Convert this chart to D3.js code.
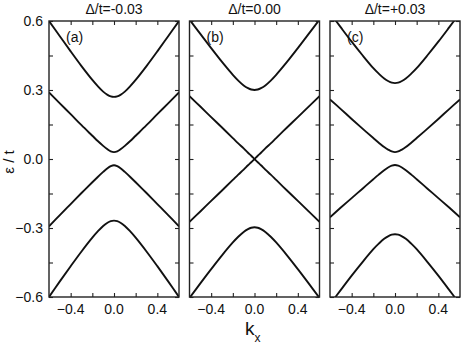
<!DOCTYPE html>
<html>
<head>
	<meta charset="utf-8">
	<script src="https://d3js.org/d3.v7.min.js"></script>
	<style>
		body { margin:0; background:#fff; }
		text { font-family: "Liberation Sans", Arial, sans-serif; fill:#111; }
		.axis path { display:none; }
		.axis line { stroke:#222; stroke-width:1.1; }
		.frame { fill:none; stroke:#222; stroke-width:1.4; }
		.band { fill:none; stroke:#111; stroke-width:1.9; }
	</style>
</head>
<body>
<script>
	// kx sample points (shared by every band)
	var kx = [-0.6,-0.5,-0.4,-0.3,-0.2,-0.15,-0.1,-0.06,-0.03,0,0.03,0.06,0.1,0.15,0.2,0.3,0.4,0.5,0.6];

	var titles = ["\u0394/t=-0.03", "\u0394/t=0.00", "\u0394/t=+0.03"];
	var panelTags = ["(a)", "(b)", "(c)"];

	var xTicks = [-0.4,-0.2,0,0.2,0.4];
	var xTickLabels = [-0.4,0,0.4];
	var yTicks = [-0.6,-0.45,-0.3,-0.15,0,0.15,0.3,0.45,0.6];
	var yTickLabels = [-0.6,-0.3,0,0.3,0.6];

	// panel (a), delta = -0.03
	var a_top = [0.600,0.534,0.468,0.404,0.344,0.317,0.293,0.279,0.272,0.270,0.272,0.279,0.293,0.317,0.344,0.404,0.468,0.534,0.600];
	var a_up  = [0.290,0.242,0.195,0.147,0.101,0.078,0.057,0.042,0.033,0.030,0.033,0.042,0.057,0.078,0.101,0.147,0.195,0.242,0.290];
	var a_dn  = [-0.293,-0.244,-0.196,-0.148,-0.101,-0.078,-0.056,-0.040,-0.031,-0.027,-0.031,-0.040,-0.056,-0.078,-0.101,-0.148,-0.196,-0.244,-0.293];
	var a_bot = [-0.600,-0.532,-0.466,-0.402,-0.342,-0.315,-0.291,-0.277,-0.270,-0.268,-0.270,-0.277,-0.291,-0.315,-0.342,-0.402,-0.466,-0.532,-0.600];

	// panel (b), delta = 0
	var b_top = [0.606,0.544,0.482,0.422,0.366,0.341,0.320,0.308,0.302,0.300,0.302,0.308,0.320,0.341,0.366,0.422,0.482,0.544,0.606];
	var b_up  = [0.273,0.228,0.182,0.137,0.091,0.068,0.046,0.027,0.014,0.000,-0.014,-0.027,-0.046,-0.068,-0.091,-0.137,-0.182,-0.228,-0.273];
	var b_dn  = [-0.273,-0.228,-0.182,-0.137,-0.091,-0.068,-0.046,-0.027,-0.014,0.000,0.014,0.027,0.046,0.068,0.091,0.137,0.182,0.228,0.273];
	var b_bot = [-0.604,-0.541,-0.479,-0.419,-0.363,-0.338,-0.317,-0.305,-0.299,-0.297,-0.299,-0.305,-0.317,-0.338,-0.363,-0.419,-0.479,-0.541,-0.604];

	// panel (c), delta = +0.03
	var c_top = [0.635,0.572,0.510,0.451,0.395,0.371,0.350,0.338,0.332,0.330,0.332,0.338,0.350,0.371,0.395,0.451,0.510,0.572,0.635];
	var c_up  = [0.259,0.217,0.174,0.132,0.091,0.071,0.052,0.040,0.033,0.030,0.033,0.040,0.052,0.071,0.091,0.132,0.174,0.217,0.259];
	var c_dn  = [-0.253,-0.211,-0.170,-0.129,-0.088,-0.068,-0.049,-0.036,-0.029,-0.026,-0.029,-0.036,-0.049,-0.068,-0.088,-0.129,-0.170,-0.211,-0.253];
	var c_bot = [-0.632,-0.569,-0.507,-0.448,-0.392,-0.368,-0.347,-0.335,-0.329,-0.327,-0.329,-0.335,-0.347,-0.368,-0.392,-0.448,-0.507,-0.569,-0.632];

	var panels = [
		[a_top, a_up, a_dn, a_bot],
		[b_top, b_up, b_dn, b_bot],
		[c_top, c_up, c_dn, c_bot]
	];

	var outer_width = 463, outer_height = 346;
	var panelLeft = [49, 189.5, 330];
	var pw = 130;
	var plotTop = 21, plotBottom = 297;
	var ph = plotBottom - plotTop;

	var svg = d3.select("body").append("svg")
		.attr("width", outer_width)
		.attr("height", outer_height);

	var xScale = d3.scaleLinear().domain([-0.6, 0.6]).range([0, pw]);
	var yScale = d3.scaleLinear().domain([-0.6, 0.6]).range([ph, 0]);

	var line = d3.line()
		.x(function(d){ return xScale(d[0]); })
		.y(function(d){ return yScale(d[1]); })
		.curve(d3.curveCatmullRom);

	svg.append("defs").append("clipPath").attr("id", "clip")
		.append("rect").attr("width", pw).attr("height", ph);

	panels.forEach(function(bands, i){
		var g = svg.append("g").attr("transform", "translate(" + panelLeft[i] + "," + plotTop + ")");

		g.append("g").attr("clip-path", "url(#clip)")
			.selectAll("path")
			.data(bands)
			.enter().append("path")
			.attr("class", "band")
			.attr("d", function(vals){ return line(vals.map(function(v, j){ return [kx[j], v]; })); });

		// inward ticks on all four sides
		g.append("g").attr("class", "axis").attr("transform", "translate(0," + ph + ")")
			.call(d3.axisTop(xScale).tickValues(xTicks).tickSize(4).tickFormat(""));
		g.append("g").attr("class", "axis")
			.call(d3.axisBottom(xScale).tickValues(xTicks).tickSize(4).tickFormat(""));
		g.append("g").attr("class", "axis")
			.call(d3.axisRight(yScale).tickValues(yTicks).tickSize(4).tickFormat(""));
		g.append("g").attr("class", "axis").attr("transform", "translate(" + pw + ",0)")
			.call(d3.axisLeft(yScale).tickValues(yTicks).tickSize(4).tickFormat(""));

		g.append("rect").attr("class", "frame").attr("width", pw).attr("height", ph);

		g.selectAll(".xl").data(xTickLabels).enter().append("text")
			.attr("x", function(d){ return xScale(d); })
			.attr("y", ph + 17)
			.attr("text-anchor", "middle")
			.style("font-size", "14px")
			.text(d3.format(".1f"));

		g.append("text")
			.attr("x", pw / 2).attr("y", -7)
			.attr("text-anchor", "middle")
			.style("font-size", "14px")
			.text(titles[i]);

		g.append("text")
			.attr("x", 17).attr("y", 21)
			.style("font-size", "14px")
			.text(panelTags[i]);

		if (i == 0) {
			g.selectAll(".yl").data(yTickLabels).enter().append("text")
				.attr("x", -6)
				.attr("y", function(d){ return yScale(d); })
				.attr("dy", "0.36em")
				.attr("text-anchor", "end")
				.style("font-size", "14px")
				.text(d3.format(".1f"));
		}
	});

	svg.append("text")
		.attr("transform", "translate(14,162) rotate(-90)")
		.attr("text-anchor", "middle")
		.style("font-size", "15px")
		.text("\u03b5 / t");

	var kl = svg.append("text")
		.attr("x", 245).attr("y", 335)
		.style("font-size", "19px")
		.text("k");
	kl.append("tspan").attr("dy", 7).style("font-size", "12px").text("x");
</script>
</body>
</html>
